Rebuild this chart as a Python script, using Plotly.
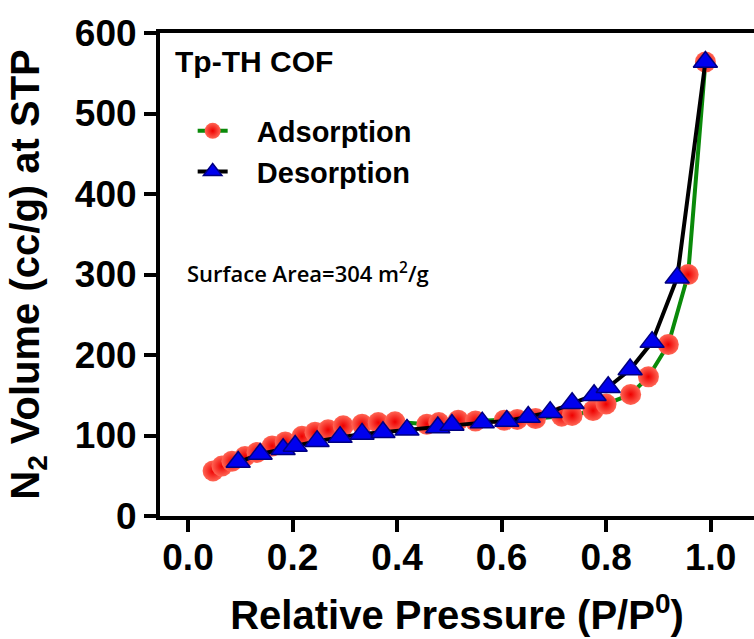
import plotly.graph_objects as go

# Adsorption branch (red spheres, green line)
ads_p = [0.048, 0.065, 0.084, 0.109, 0.132, 0.161, 0.186, 0.218, 0.243, 0.268,
         0.297, 0.333, 0.364, 0.396, 0.457, 0.48, 0.517, 0.55, 0.605, 0.63,
         0.665, 0.715, 0.735, 0.775, 0.80, 0.847, 0.881, 0.919, 0.957, 0.99]
ads_v = [56, 62, 68, 74, 79, 87, 92, 99, 104, 107,
         112, 114, 116, 117, 114, 116, 119, 118, 119, 120,
         121, 124, 125, 131, 139, 151, 173, 213, 300, 564]

# Desorption branch (blue triangles, black line)
des_p = [0.096, 0.138, 0.182, 0.205, 0.247, 0.291, 0.333, 0.373, 0.419, 0.478,
         0.505, 0.563, 0.61, 0.651, 0.693, 0.735, 0.777, 0.804, 0.846, 0.888,
         0.936, 0.99]
des_v = [67, 77, 83, 87, 93, 98, 102, 104, 107, 110,
         113, 116, 118, 123, 129, 140, 150, 160, 182, 216,
         296, 564]

x_ticks = [0.0, 0.2, 0.4, 0.6, 0.8, 1.0]
x_ticklabels = ["0.0", "0.2", "0.4", "0.6", "0.8", "1.0"]
y_ticks = [0, 100, 200, 300, 400, 500, 600]

FONT = "Arial, Liberation Sans, sans-serif"
NB = "\u00a0\u00a0\u00a0"

fig = go.Figure()
fig.add_trace(go.Scatter(
    x=ads_p, y=ads_v, mode="lines+markers", name=NB + "Adsorption",
    line=dict(color="#0a8a0a", width=4),
    marker=dict(symbol="circle", size=21, color="#ff6655",
                gradient=dict(type="radial", color="#ee0000"),
                line=dict(width=0)),
))
fig.add_trace(go.Scatter(
    x=des_p, y=des_v, mode="lines+markers", name=NB + "Desorption",
    line=dict(color="#000000", width=4),
    marker=dict(symbol="triangle-up", size=21, color="#0000ee",
                line=dict(color="#000080", width=1.5)),
))

fig.update_layout(
    template="none",
    width=754, height=639,
    margin=dict(l=160, r=0, t=33, b=123),
    paper_bgcolor="white", plot_bgcolor="white",
    font=dict(family=FONT, color="black"),
    showlegend=True,
    legend=dict(x=0.055, y=0.85, xanchor="left", yanchor="top",
                bgcolor="rgba(0,0,0,0)", traceorder="normal",
                borderwidth=0,
                font=dict(family=FONT, size=29, color="black", weight="bold")),
    xaxis=dict(range=[-0.0536, 1.083], tickvals=x_ticks, ticktext=x_ticklabels,
               showline=True, linecolor="black", linewidth=4, mirror=True,
               ticks="outside", ticklen=12, tickwidth=4, tickcolor="black",
               showgrid=False, zeroline=False, automargin=False,
               ticklabelstandoff=-6,
               tickfont=dict(family=FONT, size=37, weight="bold"),
               title=dict(text="Relative Pressure (P/P<sup>0</sup>)",
                          font=dict(family=FONT, size=40, weight="bold"),
                          standoff=25)),
    yaxis=dict(range=[0, 600], tickvals=y_ticks,
               showline=True, linecolor="black", linewidth=4, mirror=False,
               ticks="outside", ticklen=12, tickwidth=4, tickcolor="black",
               showgrid=False, zeroline=False, automargin=False,
               tickfont=dict(family=FONT, size=37, weight="bold"),
               title=dict(text="N<sub>2</sub> Volume (cc/g) at STP",
                          font=dict(family=FONT, size=40, weight="bold"),
                          standoff=24)),
)

fig.add_annotation(x=0.022, y=0.94, xref="paper", yref="paper",
                   xanchor="left", yanchor="middle", showarrow=False,
                   text="Tp-TH COF",
                   font=dict(family=FONT, size=30, weight="bold", color="black"))
fig.add_annotation(x=0.042, y=0.505, xref="paper", yref="paper",
                   xanchor="left", yanchor="middle", showarrow=False,
                   text="Surface Area=304 m<sup>2</sup>/g",
                   font=dict(family="Open Sans, Noto Sans, sans-serif", size=22,
                             weight=600, color="black"))

fig.write_html("out.html")
